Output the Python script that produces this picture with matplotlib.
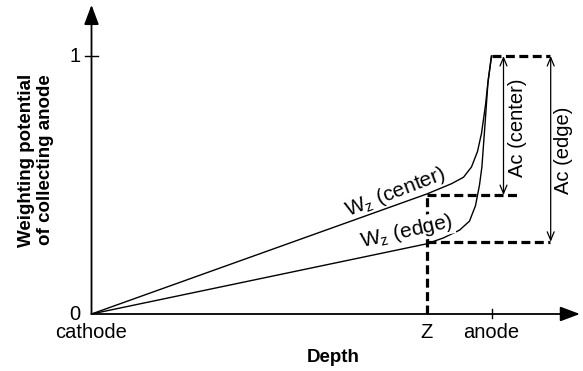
import matplotlib
matplotlib.use("Agg")
import matplotlib.pyplot as plt

plt.rcParams['font.family'] = ['Liberation Sans', 'DejaVu Sans']
plt.rcParams['mathtext.fontset'] = 'custom'
plt.rcParams['mathtext.rm'] = 'Liberation Sans'
plt.rcParams['mathtext.it'] = 'Liberation Sans'

# depth: cathode = 0, anode = 1
z_pos = 0.838
center_x = [0, 0.838, 0.90, 0.93, 0.95, 0.965, 0.975, 0.985, 0.992, 1.0]
center_y = [0, 0.465, 0.505, 0.53, 0.57, 0.63, 0.70, 0.81, 0.91, 1.0]
edge_x = [0, 0.838, 0.88, 0.92, 0.945, 0.96, 0.97, 0.976, 0.984, 0.991, 1.0]
edge_y = [0, 0.272, 0.295, 0.325, 0.36, 0.42, 0.50, 0.57, 0.74, 0.895, 1.0]
ac_center_lvl = 0.461
ac_edge_lvl = 0.28
x_ticks = [0, z_pos, 1.0]
x_ticklabels = ['cathode', 'Z', 'anode']
y_ticks = [0, 1]

fig = plt.figure(figsize=(5.83, 3.71), dpi=100)
ax = fig.add_axes([0, 0, 1, 1])
ax.set_xlim(-91.5 / 400, (583 - 91.5) / 400)
ax.set_ylim((314 - 371) / 258, 314 / 258)
ax.axis('off')

# axes with arrow heads
arr = dict(arrowstyle='-|>,head_length=1.2,head_width=0.45', color='black', lw=1.3,
           shrinkA=0, shrinkB=0)
ax.annotate('', xy=(1.221, 0), xytext=(0, 0), arrowprops=arr)
ax.annotate('', xy=(0, 1.198), xytext=(0, 0), arrowprops=arr)

# ticks
ax.plot([-0.016, 0.016], [1, 1], color='black', lw=1.0)
ax.plot([1.0, 1.0], [-0.015, 0.02], color='black', lw=1.0)

# weighting potential curves
ax.plot(center_x, center_y, color='black', lw=1.0)
ax.plot(edge_x, edge_y, color='black', lw=1.0)

# dashed guides
dash = dict(color='black', lw=2.3, linestyle=(0, (2.8, 1.4)))
ax.plot([z_pos, z_pos], [0, ac_center_lvl], **dash)
ax.plot([z_pos, 1.065], [ac_center_lvl, ac_center_lvl], **dash)
ax.plot([z_pos, 1.145], [ac_edge_lvl, ac_edge_lvl], **dash)
ax.plot([1.0, 1.145], [1, 1], **dash)

# amplitude arrows
dbl = dict(arrowstyle='<->,head_length=0.6,head_width=0.25', color='black', lw=0.9,
           shrinkA=0, shrinkB=0)
ax.annotate('', xy=(1.03, 1), xytext=(1.03, ac_center_lvl), arrowprops=dbl)
ax.annotate('', xy=(1.148, 1), xytext=(1.148, ac_edge_lvl), arrowprops=dbl)
ax.text(1.064, 0.72, 'Ac (center)', rotation=90, ha='center', va='center', fontsize=14.5)
ax.text(1.181, 0.636, 'Ac (edge)', rotation=90, ha='center', va='center', fontsize=14.5)

# curve labels
ax.text(0.641, 0.38, r'W$_\mathrm{z}$ (center)', rotation=21, ha='left', va='baseline',
        fontsize=15, rotation_mode='anchor')
ax.text(0.676, 0.26, r'W$_\mathrm{z}$ (edge)', rotation=12.5, ha='left', va='baseline',
        fontsize=15, rotation_mode='anchor', zorder=5,
        bbox=dict(facecolor='white', edgecolor='none', pad=0.5))

# tick labels
for x, lab in zip(x_ticks, x_ticklabels):
    ax.text(x, -0.07, lab, ha='center', va='center', fontsize=14.5)
for y in y_ticks:
    ax.text(-0.028, y, str(y), ha='right', va='center', fontsize=14.5)

ax.text(0.604, -0.17, 'Depth', ha='center', va='center', fontsize=13.5, fontweight='bold')
ax.text(-0.139, 0.597, 'Weighting potential\nof collecting anode', rotation=90,
        ha='center', va='center', fontsize=13.5, fontweight='bold', linespacing=1.15)

fig.savefig('out.png', dpi=100)
